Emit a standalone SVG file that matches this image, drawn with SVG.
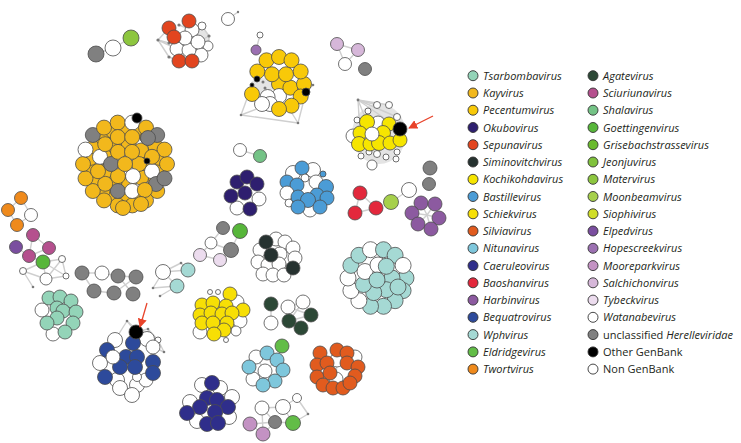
<svg xmlns="http://www.w3.org/2000/svg" width="741" height="443" viewBox="0 0 741 443">
<defs>
<marker id="ah" viewBox="0 0 10 10" refX="9" refY="5" markerWidth="7" markerHeight="7" orient="auto"><path d="M0,0 L10,5 L0,10 z" fill="#e8432a"/></marker>
</defs>
<style>
circle{stroke:#4d4d4d;stroke-width:.8}
.ts{fill:#93d4b8}.ka{fill:#f2b81c}.pe{fill:#f8c908}.ok{fill:#2e1f6f}.se{fill:#e2451f}.si{fill:#263230}
.ko{fill:#f6e500}.ba{fill:#4b9cd6}.sc{fill:#f7df05}.sv{fill:#e15b1e}.ni{fill:#7ec7dc}.ca{fill:#2f2e8b}
.bo{fill:#e3283c}.ha{fill:#8c5aa0}.bq{fill:#2d4a9b}.wp{fill:#a5d9d4}.el{fill:#62bd47}.tw{fill:#ef8a1c}
.ag{fill:#2c4836}.sr{fill:#b5508e}.sh{fill:#74c386}.go{fill:#57b63a}.gr{fill:#6aba2d}.je{fill:#80c23c}
.ma{fill:#8dc63f}.mo{fill:#a6d04b}.sp{fill:#d0dd27}.ep{fill:#7a4e9f}.ho{fill:#9b70b1}.mp{fill:#c392c3}
.sa{fill:#d6b7d9}.ty{fill:#ecdcee}.wa{fill:#fff}.un{fill:#808080}.og{fill:#000}.ng{fill:#fff}
.dot{fill:#7a7a7a;stroke:none}
#edges line{stroke:#cfcfcf;stroke-width:1.4}
.patch{fill:#e4e4e4;stroke:none}
.lg circle{stroke:#333;stroke-width:.9}
.lg text{font-family:"Open Sans","Liberation Sans",sans-serif;font-size:11px;font-style:italic;fill:#231f20}
.lg .n{font-style:normal}
.arrow{stroke:#e8432a;stroke-width:1.3;fill:none}
</style>
<rect width="741" height="443" fill="#fff"/>

<g id="patches">
<ellipse class="patch" cx="379" cy="134" rx="27" ry="30"/>
<ellipse class="patch" cx="262" cy="86" rx="12" ry="8"/>
<ellipse class="patch" cx="196" cy="40" rx="14" ry="12"/>
</g>

<g id="edges">
<line x1="96" y1="54" x2="113" y2="48"/><line x1="113" y1="48" x2="131" y2="38"/>
<line x1="158" y1="40" x2="169" y2="28"/><line x1="158" y1="40" x2="177" y2="49"/><line x1="158" y1="40" x2="169" y2="57"/><line x1="158" y1="40" x2="169" y2="43"/><line x1="169" y1="57" x2="179" y2="61"/><line x1="209" y1="36" x2="202" y2="26"/><line x1="209" y1="36" x2="198" y2="42"/><line x1="179" y1="25" x2="192" y2="30"/><line x1="209" y1="36" x2="208" y2="46"/>
<line x1="228" y1="19" x2="238" y2="12"/>
<line x1="256" y1="50" x2="260" y2="35"/>
<line x1="337" y1="44" x2="358" y2="50"/><line x1="337" y1="44" x2="345" y2="64"/><line x1="358" y1="50" x2="345" y2="64"/>
<line x1="241" y1="115" x2="262" y2="107"/><line x1="241" y1="115" x2="298" y2="123"/><line x1="298" y1="123" x2="306" y2="92"/><line x1="313" y1="85" x2="306" y2="92"/><line x1="298" y1="123" x2="290" y2="110"/><line x1="241" y1="115" x2="252" y2="85"/>
<line x1="358" y1="100" x2="367" y2="122"/><line x1="358" y1="100" x2="389" y2="105"/><line x1="358" y1="100" x2="377" y2="105"/><line x1="358" y1="100" x2="397" y2="117"/><line x1="358" y1="100" x2="360" y2="133"/><line x1="358" y1="100" x2="400" y2="129"/>
<line x1="240" y1="150" x2="260" y2="156"/>
<line x1="360" y1="193" x2="355" y2="213"/><line x1="355" y1="213" x2="376" y2="208"/><line x1="376" y1="208" x2="360" y2="193"/>
<line x1="391" y1="202" x2="409" y2="190"/>
<line x1="427" y1="215" x2="421" y2="203"/><line x1="427" y1="215" x2="435" y2="204"/><line x1="427" y1="215" x2="412" y2="213"/><line x1="427" y1="215" x2="439" y2="218"/><line x1="427" y1="215" x2="418" y2="224"/><line x1="427" y1="215" x2="431" y2="229"/>
<line x1="211" y1="243" x2="223" y2="228"/><line x1="211" y1="243" x2="231" y2="250"/><line x1="200" y1="255" x2="220" y2="260"/><line x1="220" y1="260" x2="231" y2="250"/><line x1="200" y1="255" x2="211" y2="243"/><line x1="231" y1="250" x2="240" y2="231"/>
<line x1="163" y1="272" x2="188" y2="270"/><line x1="163" y1="272" x2="177" y2="286"/><line x1="181" y1="263" x2="188" y2="270"/><line x1="153" y1="288" x2="163" y2="272"/><line x1="160" y1="296" x2="177" y2="286"/><line x1="153" y1="288" x2="177" y2="286"/><line x1="181" y1="263" x2="163" y2="272"/>
<line x1="82" y1="273" x2="102" y2="273"/><line x1="102" y1="273" x2="118" y2="276"/><line x1="118" y1="276" x2="136" y2="277"/><line x1="82" y1="273" x2="94" y2="291"/><line x1="118" y1="276" x2="133" y2="294"/><line x1="114" y1="293" x2="136" y2="277"/><line x1="94" y1="291" x2="114" y2="293"/>
<line x1="21" y1="198" x2="8" y2="210"/><line x1="8" y1="210" x2="17" y2="225"/><line x1="21" y1="198" x2="31" y2="215"/><line x1="17" y1="225" x2="31" y2="215"/>
<line x1="33" y1="235" x2="49" y2="248"/><line x1="33" y1="235" x2="29" y2="256"/><line x1="49" y1="248" x2="29" y2="256"/><line x1="16" y1="247" x2="29" y2="256"/><line x1="29" y1="256" x2="43" y2="262"/><line x1="43" y1="262" x2="62" y2="259"/><line x1="43" y1="262" x2="66" y2="276"/><line x1="62" y1="259" x2="66" y2="276"/><line x1="23" y1="271" x2="46" y2="279"/><line x1="46" y1="279" x2="66" y2="276"/><line x1="23" y1="271" x2="33" y2="287"/><line x1="62" y1="259" x2="46" y2="279"/><line x1="43" y1="262" x2="23" y2="271"/><line x1="43" y1="262" x2="46" y2="279"/>
<line x1="127" y1="321" x2="136" y2="332"/><line x1="148" y1="329" x2="136" y2="332"/><line x1="158" y1="340" x2="164" y2="352"/><line x1="127" y1="321" x2="115" y2="340"/><line x1="148" y1="329" x2="158" y2="340"/><line x1="127" y1="321" x2="147" y2="339"/><line x1="164" y1="352" x2="153" y2="347"/><line x1="148" y1="329" x2="153" y2="347"/>
<line x1="265" y1="371" x2="256" y2="357"/><line x1="265" y1="371" x2="277" y2="360"/><line x1="265" y1="371" x2="253" y2="379"/><line x1="265" y1="371" x2="275" y2="381"/><line x1="277" y1="360" x2="282" y2="346"/>
<line x1="336" y1="379" x2="337" y2="360"/><line x1="337" y1="360" x2="330" y2="373"/>
<line x1="262" y1="408" x2="283" y2="407"/><line x1="283" y1="407" x2="297" y2="398"/><line x1="297" y1="398" x2="308" y2="414"/><line x1="283" y1="407" x2="293" y2="423"/><line x1="275" y1="422" x2="293" y2="423"/><line x1="262" y1="408" x2="275" y2="422"/><line x1="250" y1="424" x2="263" y2="434"/><line x1="250" y1="424" x2="275" y2="422"/><line x1="263" y1="434" x2="275" y2="422"/><line x1="262" y1="408" x2="263" y2="434"/><line x1="308" y1="414" x2="293" y2="423"/>
<line x1="271" y1="304" x2="271" y2="323"/><line x1="288" y1="307" x2="303" y2="302"/><line x1="288" y1="307" x2="311" y2="315"/><line x1="289" y1="321" x2="303" y2="302"/><line x1="289" y1="321" x2="311" y2="315"/>
<line x1="266" y1="242" x2="271" y2="255"/><line x1="271" y1="255" x2="293" y2="268"/><line x1="271" y1="255" x2="280" y2="254"/>
</g>

<g id="cluster-grey-pair">
<circle class="un" cx="96" cy="54" r="8"/><circle class="ng" cx="113" cy="48" r="8"/><circle class="ma" cx="131" cy="38" r="8"/>
</g>

<g id="cluster-sepunavirus">
<circle class="dot" cx="158" cy="40" r="1.6"/><circle class="dot" cx="179" cy="25" r="1.6"/><circle class="dot" cx="169" cy="43" r="1.6"/><circle class="dot" cx="169" cy="57" r="1.6"/><circle class="dot" cx="209" cy="36" r="1.6"/>
<circle class="ng" cx="202" cy="26" r="4"/>
<circle class="ng" cx="192" cy="30" r="7"/>
<circle class="ng" cx="208" cy="46" r="5"/>
<circle class="ng" cx="201" cy="55" r="7"/>
<circle class="ng" cx="177" cy="49" r="7"/>
<circle class="ng" cx="189" cy="50" r="7"/>
<circle class="ng" cx="185" cy="38" r="7"/>
<circle class="ng" cx="198" cy="42" r="7"/>
<circle class="se" cx="169" cy="28" r="7"/>
<circle class="se" cx="189" cy="21" r="7"/>
<circle class="se" cx="174" cy="37" r="7"/>
<circle class="se" cx="179" cy="61" r="7"/>
<circle class="se" cx="192" cy="61" r="7"/>
</g>

<g id="cluster-white-single">
<circle class="ng" cx="228" cy="19" r="6.5"/><circle class="dot" cx="238" cy="12" r="1.2"/>
</g>

<g id="cluster-hopescreek">
<circle class="ng" cx="260" cy="35" r="3"/><circle class="ho" cx="256" cy="50" r="5"/>
</g>

<g id="cluster-salchichon">
<circle class="sa" cx="337" cy="44" r="6.5"/><circle class="sa" cx="358" cy="50" r="6.5"/><circle class="ng" cx="345" cy="64" r="6.5"/><circle class="un" cx="365" cy="69" r="6.5"/>
</g>

<g id="cluster-pecentumvirus">
<circle class="dot" cx="241" cy="115" r="1.3"/><circle class="dot" cx="298" cy="123" r="1.3"/><circle class="dot" cx="313" cy="85" r="1.3"/>
<circle class="pe" cx="279" cy="84" r="7.5"/>
<circle class="ng" cx="279" cy="96" r="7.5"/>
<circle class="ng" cx="267.6" cy="97" r="7.5"/>
<circle class="ng" cx="270" cy="104" r="7.5"/>
<circle class="pe" cx="290.4" cy="87.7" r="7.5"/>
<circle class="pe" cx="272" cy="74.3" r="7.5"/>
<circle class="pe" cx="286" cy="74.3" r="7.5"/>
<circle class="pe" cx="304" cy="84" r="7.5"/>
<circle class="pe" cx="300.7" cy="96.5" r="7.5"/>
<circle class="pe" cx="291.5" cy="105.7" r="7.5"/>
<circle class="pe" cx="279" cy="109" r="7.5"/>
<circle class="ng" cx="262" cy="104" r="7.5"/>
<circle class="pe" cx="252" cy="94" r="7.5"/>
<circle class="pe" cx="257.3" cy="71.5" r="7.5"/>
<circle class="pe" cx="266.5" cy="60.3" r="7.5"/>
<circle class="pe" cx="279" cy="57" r="7.5"/>
<circle class="pe" cx="291.5" cy="60.3" r="7.5"/>
<circle class="pe" cx="300.7" cy="71.5" r="7.5"/>
<circle class="og" cx="257" cy="79" r="3"/><circle class="og" cx="252" cy="85" r="2"/><circle class="dot" cx="263" cy="82" r="1.5"/><circle class="dot" cx="265" cy="88" r="1.5"/>
<circle class="og" cx="306" cy="92" r="4"/>
</g>

<g id="cluster-kochikohdavirus">
<circle class="dot" cx="358" cy="100" r="1.4"/>
<circle class="ng" cx="377" cy="105" r="3.5"/><circle class="ng" cx="389" cy="105" r="3.5"/><circle class="ng" cx="397" cy="117" r="3.5"/><circle class="ng" cx="368" cy="111" r="3"/><circle class="ng" cx="357" cy="120" r="3"/>
<circle class="ng" cx="361" cy="156" r="3"/><circle class="ng" cx="369" cy="152" r="3"/><circle class="ng" cx="377" cy="154" r="3.5"/><circle class="ng" cx="386" cy="157" r="3"/><circle class="ng" cx="396" cy="159" r="3"/><circle class="ng" cx="397" cy="152" r="3"/>
<circle class="ng" cx="372" cy="165" r="5"/>
<circle class="ng" cx="353" cy="136" r="7"/>
<circle class="ng" cx="378" cy="123" r="7"/>
<circle class="ko" cx="367" cy="122" r="7.5"/>
<circle class="ko" cx="389" cy="124" r="7"/>
<circle class="ko" cx="383" cy="133" r="7.5"/>
<circle class="ko" cx="360" cy="133" r="7"/>
<circle class="ko" cx="359" cy="144" r="7.5"/>
<circle class="ko" cx="370" cy="144" r="7"/>
<circle class="ko" cx="379" cy="143" r="7.5"/>
<circle class="ko" cx="390" cy="143" r="7"/>
<circle class="ko" cx="400" cy="140" r="7"/>
<circle class="ng" cx="372" cy="134" r="7"/>
<circle class="og" cx="400" cy="129" r="7"/>
</g>

<g id="cluster-kayvirus">
<circle class="ka" cx="159.5" cy="170.1" r="7.5"/><circle class="ka" cx="155.3" cy="181.5" r="7.5"/><circle class="ka" cx="147.5" cy="190.8" r="7.5"/>
<circle class="ka" cx="137" cy="196.9" r="7.5"/><circle class="ka" cx="125" cy="199" r="7.5"/><circle class="ka" cx="113" cy="196.9" r="7.5"/>
<circle class="ka" cx="102.5" cy="190.8" r="7.5"/><circle class="ka" cx="94.7" cy="181.5" r="7.5"/><circle class="ka" cx="90.5" cy="170.1" r="7.5"/>
<circle class="ka" cx="90.5" cy="157.9" r="7.5"/><circle class="ka" cx="94.7" cy="146.5" r="7.5"/><circle class="ka" cx="102.5" cy="137.2" r="7.5"/>
<circle class="ka" cx="113" cy="131.1" r="7.5"/><circle class="ka" cx="125" cy="129" r="7.5"/><circle class="ka" cx="137" cy="131.1" r="7.5"/>
<circle class="ka" cx="147.5" cy="137.2" r="7.5"/><circle class="ka" cx="155.3" cy="146.5" r="7.5"/><circle class="ka" cx="159.5" cy="157.9" r="7.5"/>
<circle class="ka" cx="146" cy="164" r="7.5"/><circle class="ka" cx="141.1" cy="177.5" r="7.5"/><circle class="ka" cx="128.6" cy="184.7" r="7.5"/>
<circle class="ka" cx="114.5" cy="182.2" r="7.5"/><circle class="ka" cx="105.3" cy="171.2" r="7.5"/><circle class="ka" cx="105.3" cy="156.8" r="7.5"/>
<circle class="ka" cx="114.5" cy="145.8" r="7.5"/><circle class="ka" cx="128.6" cy="143.3" r="7.5"/><circle class="ka" cx="141.1" cy="150.5" r="7.5"/>
<circle class="ka" cx="167" cy="164" r="7.5"/>
<circle class="ka" cx="157.2" cy="191" r="7.5"/>
<circle class="ka" cx="146" cy="200.4" r="7.5"/>
<circle class="ka" cx="132.3" cy="205.4" r="7.5"/>
<circle class="ka" cx="117.7" cy="205.4" r="7.5"/>
<circle class="ka" cx="104" cy="200.4" r="7.5"/>
<circle class="ka" cx="92.8" cy="191" r="7.5"/>
<circle class="ka" cx="85.5" cy="178.4" r="7.5"/>
<circle class="ka" cx="83" cy="164" r="7.5"/>
<circle class="ng" cx="85.5" cy="149.6" r="7.5"/>
<circle class="un" cx="92.8" cy="135" r="7.5"/>
<circle class="ka" cx="104" cy="127.6" r="7.5"/>
<circle class="ka" cx="117.7" cy="122.6" r="7.5"/>
<circle class="ng" cx="132.3" cy="122.6" r="7.5"/>
<circle class="og" cx="137" cy="118" r="5"/>
<circle class="ka" cx="146" cy="127.6" r="7.5"/>
<circle class="un" cx="157.2" cy="135" r="7.5"/>
<circle class="ka" cx="164.5" cy="149.6" r="7.5"/>
<circle class="ng" cx="152" cy="171.2" r="7.5"/>
<circle class="un" cx="156" cy="184" r="7.5"/>
<circle class="un" cx="164.5" cy="178.4" r="7.5"/>
<circle class="un" cx="117.8" cy="191" r="7.5"/>
<circle class="ng" cx="132.2" cy="191" r="7.5"/>
<circle class="ka" cx="144.8" cy="190" r="7.5"/>
<circle class="ka" cx="105.2" cy="183.8" r="7.5"/>
<circle class="ka" cx="98" cy="171.2" r="7.5"/>
<circle class="ng" cx="100" cy="156.8" r="7.5"/>
<circle class="ka" cx="105.2" cy="144.2" r="7.5"/>
<circle class="ka" cx="117.8" cy="137" r="7.5"/>
<circle class="ka" cx="132.2" cy="137" r="7.5"/>
<circle class="un" cx="148" cy="138" r="7.5"/>
<circle class="ka" cx="152" cy="156.8" r="7.5"/>
<circle class="ka" cx="139" cy="164" r="7.5"/>
<circle class="ng" cx="133" cy="176.1" r="7.5"/>
<circle class="ka" cx="118" cy="176.1" r="7.5"/>
<circle class="un" cx="111" cy="164" r="7.5"/>
<circle class="ka" cx="118" cy="151.9" r="7.5"/>
<circle class="ka" cx="132" cy="151.9" r="7.5"/>
<circle class="ka" cx="125" cy="164" r="7.5"/>
<circle class="ka" cx="141" cy="204" r="7.5"/>
<circle class="ka" cx="123" cy="208" r="7.5"/>
<circle class="og" cx="147" cy="161" r="3"/>
</g>

<g id="cluster-shalavirus">
<circle class="ng" cx="240" cy="150" r="6.5"/><circle class="sh" cx="260" cy="156" r="6.5"/>
</g>

<g id="cluster-okubovirus">
<circle class="ng" cx="237" cy="208" r="7"/><circle class="ng" cx="259" cy="199" r="7"/>
<circle class="ok" cx="237" cy="182" r="7"/><circle class="ok" cx="247" cy="177" r="7"/><circle class="ok" cx="257" cy="184" r="7"/>
<circle class="ok" cx="231" cy="196" r="7"/><circle class="ok" cx="245" cy="193" r="7"/><circle class="ok" cx="250" cy="209" r="7"/>
</g>

<g id="cluster-bastillevirus">
<circle class="ng" cx="293" cy="173" r="7.5"/><circle class="ng" cx="313" cy="170" r="7.5"/>
<circle class="ba" cx="302" cy="168" r="7"/>
<circle class="ba" cx="323" cy="174" r="3"/>
<circle class="ba" cx="287" cy="182" r="7"/>
<circle class="ng" cx="305" cy="178" r="4"/>
<circle class="ba" cx="297" cy="185" r="7"/>
<circle class="ng" cx="316" cy="182" r="7"/>
<circle class="ng" cx="287" cy="193" r="7"/>
<circle class="ba" cx="326" cy="187" r="7.5"/>
<circle class="ng" cx="310" cy="210" r="7"/>
<circle class="ng" cx="289" cy="203" r="4"/>
<circle class="ba" cx="298" cy="197" r="7"/>
<circle class="ba" cx="317" cy="195" r="7"/>
<circle class="ba" cx="327" cy="198" r="7"/>
<circle class="ba" cx="308" cy="200" r="7.5"/>
<circle class="ba" cx="298" cy="207" r="7"/>
<circle class="ba" cx="320" cy="207" r="7"/>
</g>

<g id="cluster-baoshanvirus">
<circle class="bo" cx="360" cy="193" r="7"/><circle class="bo" cx="355" cy="213" r="7"/><circle class="bo" cx="376" cy="208" r="7"/>
</g>

<g id="cluster-moonbeam">
<circle class="mo" cx="391" cy="202" r="7.5"/><circle class="ng" cx="409" cy="190" r="7.5"/>
</g>

<g id="cluster-grey-right">
<circle class="un" cx="430" cy="168" r="7"/><circle class="un" cx="429" cy="184" r="6.5"/>
</g>

<g id="cluster-harbinvirus">
<circle class="ha" cx="421" cy="203" r="7"/><circle class="ha" cx="435" cy="204" r="7"/><circle class="ha" cx="412" cy="213" r="7"/>
<circle class="ha" cx="439" cy="218" r="7"/><circle class="ha" cx="418" cy="224" r="7"/><circle class="ha" cx="431" cy="229" r="7"/>
</g>

<g id="cluster-tybeck">
<circle class="un" cx="223" cy="228" r="6.5"/><circle class="go" cx="240" cy="231" r="7.5"/>
<circle class="ng" cx="211" cy="243" r="6"/><circle class="un" cx="231" cy="250" r="7.5"/>
<circle class="ty" cx="200" cy="255" r="6.5"/><circle class="ty" cx="220" cy="260" r="6.5"/>
</g>

<g id="cluster-wph-small">
<circle class="dot" cx="181" cy="263" r="1.3"/><circle class="dot" cx="153" cy="288" r="1.3"/><circle class="dot" cx="160" cy="296" r="1.3"/>
<circle class="ng" cx="163" cy="272" r="7.5"/><circle class="wp" cx="188" cy="270" r="7"/><circle class="wp" cx="177" cy="286" r="7"/>
</g>

<g id="cluster-siminovitchvirus">
<circle class="ng" cx="276" cy="239" r="7"/><circle class="ng" cx="285" cy="242" r="7"/><circle class="ng" cx="293" cy="248" r="7"/>
<circle class="ng" cx="260" cy="250" r="7"/><circle class="ng" cx="280" cy="254" r="7"/><circle class="ng" cx="295" cy="258" r="7"/>
<circle class="ng" cx="258" cy="262" r="7"/><circle class="ng" cx="268" cy="265" r="7"/><circle class="ng" cx="279" cy="264" r="7"/>
<circle class="ng" cx="263" cy="274" r="7"/><circle class="ng" cx="273" cy="275" r="7"/><circle class="ng" cx="284" cy="275" r="7"/>
<circle class="si" cx="266" cy="242" r="7"/><circle class="si" cx="271" cy="255" r="7"/><circle class="si" cx="293" cy="268" r="7"/>
</g>

<g id="cluster-wphvirus">
<circle class="wp" cx="406" cy="278" r="8"/>
<circle class="wp" cx="403.1" cy="290.6" r="8"/>
<circle class="wp" cx="395.1" cy="300.7" r="8"/>
<circle class="wp" cx="383.5" cy="306.3" r="8"/>
<circle class="wp" cx="370.5" cy="306.3" r="8"/>
<circle class="ng" cx="358.9" cy="300.7" r="8"/>
<circle class="ng" cx="350.9" cy="290.6" r="8"/>
<circle class="ng" cx="348" cy="278" r="8"/>
<circle class="wp" cx="350.9" cy="265.4" r="8"/>
<circle class="wp" cx="358.9" cy="255.3" r="8"/>
<circle class="ng" cx="370.5" cy="249.7" r="8"/>
<circle class="wp" cx="383.5" cy="249.7" r="8"/>
<circle class="wp" cx="395.1" cy="255.3" r="8"/>
<circle class="ng" cx="403.1" cy="265.4" r="8"/>
<circle class="wp" cx="392" cy="278" r="8"/>
<circle class="wp" cx="386.3" cy="289.7" r="8"/>
<circle class="wp" cx="373.7" cy="292.6" r="8"/>
<circle class="wp" cx="363.5" cy="284.5" r="8"/>
<circle class="ng" cx="365" cy="271.5" r="8"/>
<circle class="ng" cx="378" cy="265" r="8"/>
<circle class="wp" cx="386.3" cy="266.3" r="8"/>
<circle class="wp" cx="377" cy="280" r="8"/>
<circle class="wp" cx="398" cy="287" r="8"/>
</g>

<g id="cluster-twortvirus">
<circle class="tw" cx="21" cy="198" r="6.5"/><circle class="tw" cx="8" cy="210" r="6.5"/><circle class="tw" cx="17" cy="225" r="6.5"/><circle class="ng" cx="31" cy="215" r="6.5"/>
</g>

<g id="cluster-sciuriunavirus">
<circle class="dot" cx="33" cy="287" r="1.3"/>
<circle class="sr" cx="33" cy="235" r="6.5"/><circle class="sr" cx="49" cy="248" r="6.5"/><circle class="sr" cx="29" cy="256" r="6.5"/><circle class="ep" cx="16" cy="247" r="6.5"/>
<circle class="go" cx="43" cy="262" r="7"/>
<circle class="ng" cx="62" cy="259" r="3.5"/><circle class="ng" cx="23" cy="271" r="3.5"/><circle class="ng" cx="46" cy="279" r="6"/><circle class="ng" cx="66" cy="276" r="3"/>
</g>

<g id="cluster-grey-left">
<circle class="un" cx="82" cy="273" r="7"/><circle class="ng" cx="102" cy="273" r="7"/><circle class="un" cx="118" cy="276" r="7"/><circle class="un" cx="136" cy="277" r="7"/>
<circle class="un" cx="94" cy="291" r="7"/><circle class="un" cx="114" cy="293" r="7"/><circle class="un" cx="133" cy="294" r="7"/>
</g>

<g id="cluster-tsarbombavirus">
<circle class="ng" cx="42" cy="310" r="7"/><circle class="ng" cx="53" cy="334" r="7"/>
<circle class="ts" cx="49" cy="298" r="7"/><circle class="ts" cx="60" cy="297" r="7"/><circle class="ts" cx="71" cy="301" r="7"/>
<circle class="ts" cx="57" cy="308" r="7"/><circle class="ts" cx="63" cy="311" r="7"/><circle class="ts" cx="76" cy="312" r="7"/>
<circle class="ts" cx="57" cy="318" r="7"/><circle class="ts" cx="47" cy="323" r="7"/><circle class="ts" cx="73" cy="323" r="7"/>
<circle class="ts" cx="65" cy="332" r="7"/>
</g>

<g id="cluster-schiekvirus">
<circle class="ng" cx="210" cy="292" r="2.5"/><circle class="ng" cx="218" cy="292" r="2.5"/><circle class="ng" cx="226" cy="340" r="2.5"/>
<circle class="ng" cx="237" cy="302" r="7"/><circle class="ng" cx="240" cy="321" r="7"/><circle class="ng" cx="200" cy="332" r="7"/><circle class="ng" cx="236" cy="331" r="5"/>
<circle class="sc" cx="230" cy="294" r="7"/><circle class="sc" cx="202" cy="305" r="7"/><circle class="sc" cx="213" cy="303" r="7"/><circle class="sc" cx="226" cy="306" r="7"/>
<circle class="sc" cx="243" cy="310" r="7"/><circle class="sc" cx="200" cy="315" r="7"/><circle class="sc" cx="211" cy="313" r="7"/><circle class="sc" cx="222" cy="314" r="7"/>
<circle class="sc" cx="232" cy="313" r="7"/><circle class="sc" cx="202" cy="323" r="7"/><circle class="sc" cx="213" cy="323" r="7"/><circle class="sc" cx="227" cy="323" r="7"/>
<circle class="sc" cx="224" cy="330" r="7"/><circle class="sc" cx="214" cy="334" r="7"/>
</g>

<g id="cluster-agatevirus">
<circle class="ng" cx="288" cy="307" r="7"/><circle class="ng" cx="303" cy="302" r="7"/><circle class="ng" cx="271" cy="323" r="7"/>
<circle class="ag" cx="271" cy="304" r="7"/><circle class="ag" cx="289" cy="321" r="7"/><circle class="ag" cx="311" cy="315" r="7"/><circle class="ag" cx="301" cy="328" r="7"/>
</g>

<g id="cluster-bequatrovirus">
<circle class="dot" cx="127" cy="321" r="1.3"/><circle class="dot" cx="148" cy="329" r="1.3"/><circle class="dot" cx="164" cy="352" r="1.3"/>
<circle class="ng" cx="158" cy="340" r="3"/>
<circle class="ng" cx="115" cy="340" r="7.5"/>
<circle class="ng" cx="147" cy="339" r="7.5"/>
<circle class="ng" cx="153" cy="347" r="7"/>
<circle class="ng" cx="100" cy="363" r="7.5"/>
<circle class="ng" cx="117" cy="380" r="7.5"/>
<circle class="ng" cx="120" cy="388" r="7.5"/>
<circle class="ng" cx="137" cy="385" r="7.5"/>
<circle class="ng" cx="132" cy="395" r="7.5"/>
<circle class="ng" cx="146" cy="380" r="7"/>
<circle class="ng" cx="137" cy="377" r="4.5"/>
<circle class="bq" cx="107" cy="350" r="7.5"/>
<circle class="bq" cx="126" cy="357" r="7.5"/>
<circle class="bq" cx="137" cy="357" r="7.5"/>
<circle class="bq" cx="120" cy="367" r="7.5"/>
<circle class="bq" cx="135" cy="367" r="7.5"/>
<circle class="bq" cx="105" cy="377" r="7.5"/>
<circle class="ng" cx="113" cy="357" r="7"/>
<circle class="bq" cx="133" cy="343" r="7.5"/>
<circle class="bq" cx="153" cy="362" r="7.5"/>
<circle class="bq" cx="153" cy="373" r="7.5"/>
<circle class="og" cx="136" cy="332" r="7"/>
</g>

<g id="cluster-caeruleovirus">
<circle class="ng" cx="202" cy="385" r="7.5"/><circle class="ng" cx="220" cy="388" r="7.5"/><circle class="ng" cx="190" cy="402" r="7.5"/>
<circle class="ng" cx="232" cy="397" r="7.5"/><circle class="ng" cx="229" cy="417" r="7.5"/><circle class="ng" cx="197" cy="421" r="7.5"/>
<circle class="ca" cx="212" cy="383" r="7.5"/><circle class="ca" cx="207" cy="398" r="7.5"/><circle class="ca" cx="217" cy="400" r="7.5"/>
<circle class="ca" cx="200" cy="407" r="7.5"/><circle class="ca" cx="228" cy="407" r="7.5"/><circle class="ca" cx="215" cy="412" r="7.5"/>
<circle class="ca" cx="187" cy="413" r="7.5"/><circle class="ca" cx="207" cy="424" r="7.5"/><circle class="ca" cx="218" cy="423" r="7.5"/>
</g>

<g id="cluster-nitunavirus">
<circle class="el" cx="282" cy="346" r="7"/>
<circle class="ng" cx="256" cy="357" r="7"/><circle class="ng" cx="265" cy="371" r="7"/><circle class="ng" cx="253" cy="379" r="7"/>
<circle class="ni" cx="267" cy="353" r="7"/><circle class="ni" cx="277" cy="360" r="7"/><circle class="ni" cx="249" cy="367" r="7"/>
<circle class="ni" cx="283" cy="370" r="7"/><circle class="ni" cx="275" cy="381" r="7"/><circle class="ni" cx="263" cy="385" r="7"/>
</g>

<g id="cluster-silviavirus">
<circle class="ng" cx="355" cy="357" r="7"/><circle class="ng" cx="337" cy="360" r="7"/><circle class="ng" cx="336" cy="379" r="7"/>
<circle class="sv" cx="320" cy="353" r="7"/><circle class="sv" cx="337" cy="350" r="7"/><circle class="sv" cx="347" cy="353" r="7"/>
<circle class="sv" cx="317" cy="365" r="7"/><circle class="sv" cx="327" cy="363" r="7"/><circle class="sv" cx="347" cy="363" r="7"/>
<circle class="sv" cx="358" cy="367" r="7"/><circle class="sv" cx="317" cy="377" r="7"/><circle class="sv" cx="330" cy="373" r="7"/>
<circle class="sv" cx="355" cy="376" r="7"/><circle class="sv" cx="323" cy="385" r="7"/><circle class="sv" cx="333" cy="388" r="7"/>
<circle class="sv" cx="343" cy="388" r="7"/><circle class="sv" cx="350" cy="383" r="7"/>
</g>

<g id="cluster-mooreparkvirus">
<circle class="dot" cx="308" cy="414" r="1.3"/>
<circle class="ng" cx="262" cy="408" r="7"/><circle class="ng" cx="283" cy="407" r="7.5"/><circle class="ng" cx="297" cy="398" r="4.5"/>
<circle class="mp" cx="250" cy="424" r="7"/><circle class="un" cx="275" cy="422" r="6.5"/><circle class="el" cx="293" cy="423" r="7.5"/><circle class="mp" cx="263" cy="434" r="7"/>
</g>

<g id="arrows">
<line class="arrow" x1="433" y1="116" x2="409" y2="128" marker-end="url(#ah)"/>
<line class="arrow" x1="147" y1="303" x2="140" y2="327" marker-end="url(#ah)"/>
</g>

<g id="legend" class="lg">
<g id="lg-tsarbombavirus"><circle class="ts" cx="473" cy="75.7" r="5"/><text x="483" y="79.7">Tsarbombavirus</text></g>
<g id="lg-kayvirus"><circle class="ka" cx="473" cy="93" r="5"/><text x="483" y="97">Kayvirus</text></g>
<g id="lg-pecentumvirus"><circle class="pe" cx="473" cy="110.2" r="5"/><text x="483" y="114.2">Pecentumvirus</text></g>
<g id="lg-okubovirus"><circle class="ok" cx="473" cy="127.5" r="5"/><text x="483" y="131.5">Okubovirus</text></g>
<g id="lg-sepunavirus"><circle class="se" cx="473" cy="144.7" r="5"/><text x="483" y="148.7">Sepunavirus</text></g>
<g id="lg-siminovitchvirus"><circle class="si" cx="473" cy="162" r="5"/><text x="483" y="166">Siminovitchvirus</text></g>
<g id="lg-kochikohdavirus"><circle class="ko" cx="473" cy="179.3" r="5"/><text x="483" y="183.3">Kochikohdavirus</text></g>
<g id="lg-bastillevirus"><circle class="ba" cx="473" cy="196.5" r="5"/><text x="483" y="200.5">Bastillevirus</text></g>
<g id="lg-schiekvirus"><circle class="sc" cx="473" cy="213.8" r="5"/><text x="483" y="217.8">Schiekvirus</text></g>
<g id="lg-silviavirus"><circle class="sv" cx="473" cy="231" r="5"/><text x="483" y="235">Silviavirus</text></g>
<g id="lg-nitunavirus"><circle class="ni" cx="473" cy="248.3" r="5"/><text x="483" y="252.3">Nitunavirus</text></g>
<g id="lg-caeruleovirus"><circle class="ca" cx="473" cy="265.6" r="5"/><text x="483" y="269.6">Caeruleovirus</text></g>
<g id="lg-baoshanvirus"><circle class="bo" cx="473" cy="282.8" r="5"/><text x="483" y="286.8">Baoshanvirus</text></g>
<g id="lg-harbinvirus"><circle class="ha" cx="473" cy="300.1" r="5"/><text x="483" y="304.1">Harbinvirus</text></g>
<g id="lg-bequatrovirus"><circle class="bq" cx="473" cy="317.3" r="5"/><text x="483" y="321.3">Bequatrovirus</text></g>
<g id="lg-wphvirus"><circle class="wp" cx="473" cy="334.6" r="5"/><text x="483" y="338.6">Wphvirus</text></g>
<g id="lg-eldridgevirus"><circle class="el" cx="473" cy="351.9" r="5"/><text x="483" y="355.9">Eldridgevirus</text></g>
<g id="lg-twortvirus"><circle class="tw" cx="473" cy="369.1" r="5"/><text x="483" y="373.1">Twortvirus</text></g>

<g id="lg-agatevirus"><circle class="ag" cx="593" cy="75.7" r="5"/><text x="603" y="79.7">Agatevirus</text></g>
<g id="lg-sciuriunavirus"><circle class="sr" cx="593" cy="93" r="5"/><text x="603" y="97">Sciuriunavirus</text></g>
<g id="lg-shalavirus"><circle class="sh" cx="593" cy="110.2" r="5"/><text x="603" y="114.2">Shalavirus</text></g>
<g id="lg-goettingenvirus"><circle class="go" cx="593" cy="127.5" r="5"/><text x="603" y="131.5">Goettingenvirus</text></g>
<g id="lg-grisebachstrassevirus"><circle class="gr" cx="593" cy="144.7" r="5"/><text x="603" y="148.7">Grisebachstrassevirus</text></g>
<g id="lg-jeonjuvirus"><circle class="je" cx="593" cy="162" r="5"/><text x="603" y="166">Jeonjuvirus</text></g>
<g id="lg-matervirus"><circle class="ma" cx="593" cy="179.3" r="5"/><text x="603" y="183.3">Matervirus</text></g>
<g id="lg-moonbeamvirus"><circle class="mo" cx="593" cy="196.5" r="5"/><text x="603" y="200.5">Moonbeamvirus</text></g>
<g id="lg-siophivirus"><circle class="sp" cx="593" cy="213.8" r="5"/><text x="603" y="217.8">Siophivirus</text></g>
<g id="lg-elpedvirus"><circle class="ep" cx="593" cy="231" r="5"/><text x="603" y="235">Elpedvirus</text></g>
<g id="lg-hopescreekvirus"><circle class="ho" cx="593" cy="248.3" r="5"/><text x="603" y="252.3">Hopescreekvirus</text></g>
<g id="lg-mooreparkvirus"><circle class="mp" cx="593" cy="265.6" r="5"/><text x="603" y="269.6">Mooreparkvirus</text></g>
<g id="lg-salchichonvirus"><circle class="sa" cx="593" cy="282.8" r="5"/><text x="603" y="286.8">Salchichonvirus</text></g>
<g id="lg-tybeckvirus"><circle class="ty" cx="593" cy="300.1" r="5"/><text x="603" y="304.1">Tybeckvirus</text></g>
<g id="lg-watanabevirus"><circle class="wa" cx="593" cy="317.3" r="5"/><text x="603" y="321.3">Watanabevirus</text></g>
<g id="lg-unclassified"><circle class="un" cx="593" cy="334.6" r="5"/><text x="603" y="338.6"><tspan class="n">unclassified </tspan>Herelleviridae</text></g>
<g id="lg-othergenbank"><circle class="og" cx="593" cy="351.9" r="5"/><text class="n" x="603" y="355.9">Other GenBank</text></g>
<g id="lg-nongenbank"><circle class="ng" cx="593" cy="369.1" r="5"/><text class="n" x="603" y="373.1">Non GenBank</text></g>
</g>
</svg>
